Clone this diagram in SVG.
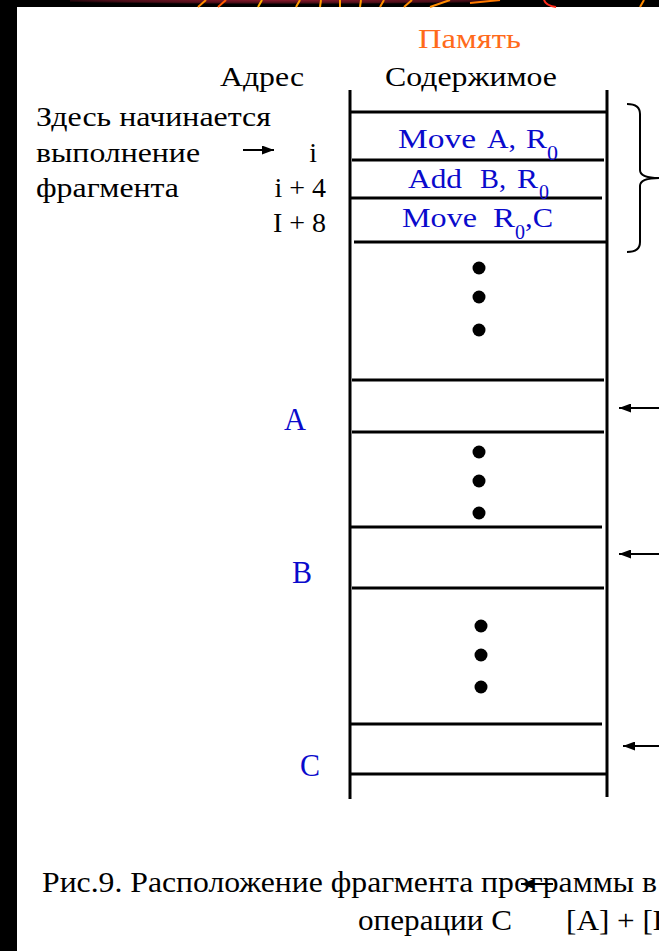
<svg xmlns="http://www.w3.org/2000/svg" width="659" height="951" viewBox="0 0 659 951">
  <defs>
    <radialGradient id="glow" cx="0.5" cy="0" r="0.6">
      <stop offset="0" stop-color="#8a1a2c"/>
      <stop offset="0.7" stop-color="#4a0d18"/>
      <stop offset="1" stop-color="#000000"/>
    </radialGradient>
    <marker id="head" viewBox="0 0 12 9" refX="12" refY="4.5" markerWidth="12" markerHeight="9" markerUnits="userSpaceOnUse" orient="auto">
      <path d="M0,0 L12,4.5 L0,9 Z" fill="#000"/>
    </marker>
    <style>
      .t { font-family: "Liberation Serif", "Tinos", "Noto Serif", "DejaVu Serif", "FreeSerif", serif; font-size: 28px; fill: #000; }
      .end { text-anchor: end; }
      .big { font-size: 31px; }
      .cap { font-size: 30px; }
      .blue { fill: #0a0acc; }
      .orange { fill: #ff6a1a; }
      .sub { font-size: 21px; }
      .cell { stroke: #000; stroke-width: 3; fill: none; }
      .wire { stroke: #000; stroke-width: 2; fill: none; }
      .dot { fill: #000; }
    </style>
  </defs>

  <!-- page frame -->
  <rect x="0" y="0" width="659" height="951" fill="#ffffff"/>
  <rect x="0" y="0" width="17" height="951" fill="#000"/>
  <rect x="0" y="0" width="659" height="7" fill="#000"/>
  <rect x="70" y="0" width="430" height="7" fill="url(#glow)"/>
  <g stroke-width="2" fill="none">
    <path d="M198,7 L206,0" stroke="#ff8a00"/>
    <path d="M218,7 L226,0" stroke="#ff5a00"/>
    <path d="M258,7 L262,0" stroke="#ffb000"/>
    <path d="M296,7 L300,0 M320,7 L321,0 M340,7 L340,0 M360,7 L361,0" stroke="#ff9a00"/>
    <path d="M380,7 L384,0 M404,7 L412,0 M430,7 L450,0" stroke="#ff8c00"/>
    <path d="M470,3 L500,0" stroke="#ff7a00"/>
    <path d="M544,0 Q546,6 556,7" stroke="#ff2a1a"/>
    <path d="M640,7 L644,0" stroke="#ff8a00"/>
  </g>

  <!-- headings -->
  <g id="heading-memory"><text class="t orange" x="418" y="48" textLength="103" lengthAdjust="spacingAndGlyphs">Память</text></g>
  <g id="heading-address"><text class="t" x="220" y="86" textLength="84" lengthAdjust="spacingAndGlyphs">Адрес</text></g>
  <g id="heading-contents"><text class="t" x="385" y="86" textLength="172" lengthAdjust="spacingAndGlyphs">Содержимое</text></g>

  <!-- start note and addresses -->
  <g id="note-start">
    <text class="t" x="36" y="126" textLength="235" lengthAdjust="spacingAndGlyphs">Здесь начинается</text>
    <text class="t" x="36" y="162" textLength="164" lengthAdjust="spacingAndGlyphs">выполнение</text>
    <text class="t" x="36" y="197" textLength="143" lengthAdjust="spacingAndGlyphs">фрагмента</text>
  </g>
  <g id="addr-i"><text class="t end" x="317" y="162">i</text></g>
  <g id="addr-i4"><text class="t end" x="326" y="197">i + 4</text></g>
  <g id="addr-i8"><text class="t end" x="326" y="232">I + 8</text></g>
  <g id="addr-a"><text class="t big blue" x="284" y="430" textLength="22" lengthAdjust="spacingAndGlyphs">A</text></g>
  <g id="addr-b"><text class="t big blue" x="292" y="583" textLength="20" lengthAdjust="spacingAndGlyphs">B</text></g>
  <g id="addr-c"><text class="t big blue" x="300" y="776" textLength="20" lengthAdjust="spacingAndGlyphs">C</text></g>

  <!-- memory column -->
  <g id="memory">
    <path class="cell" d="M350,90 V799 M607,90 V797"/>
    <path class="cell" d="M350,112 H607 M352,160 H604 M350,198 H602 M354,242 H606 M352,380 H604 M352,432 H604 M350,527 H602 M352,588 H604 M350,724 H602 M350,774 H607"/>
  </g>

  <!-- program words -->
  <g id="word-move-a">
    <text class="t blue" x="398" y="148" textLength="78" lengthAdjust="spacingAndGlyphs">Move</text>
    <text class="t blue" x="487" y="148" textLength="29" lengthAdjust="spacingAndGlyphs">A,</text>
    <text class="t blue" x="526" y="148" textLength="21" lengthAdjust="spacingAndGlyphs">R</text>
    <text class="t sub blue" x="547" y="160" textLength="11" lengthAdjust="spacingAndGlyphs">0</text>
  </g>
  <g id="word-add-b">
    <text class="t blue" x="408" y="188" textLength="54" lengthAdjust="spacingAndGlyphs">Add</text>
    <text class="t blue" x="480" y="188" textLength="26" lengthAdjust="spacingAndGlyphs">B,</text>
    <text class="t blue" x="517" y="188" textLength="21" lengthAdjust="spacingAndGlyphs">R</text>
    <text class="t sub blue" x="539" y="199" textLength="10" lengthAdjust="spacingAndGlyphs">0</text>
  </g>
  <g id="word-move-c">
    <text class="t blue" x="402" y="227" textLength="75" lengthAdjust="spacingAndGlyphs">Move</text>
    <text class="t blue" x="493" y="227" textLength="22" lengthAdjust="spacingAndGlyphs">R</text>
    <text class="t sub blue" x="515" y="239" textLength="10" lengthAdjust="spacingAndGlyphs">0</text>
    <text class="t blue" x="525" y="227" textLength="28" lengthAdjust="spacingAndGlyphs">,C</text>
  </g>

  <!-- ellipsis dots -->
  <g id="gap-1">
    <circle class="dot" cx="479" cy="268" r="6.5"/>
    <circle class="dot" cx="479" cy="297" r="6.5"/>
    <circle class="dot" cx="479" cy="330" r="6.5"/>
  </g>
  <g id="gap-2">
    <circle class="dot" cx="479" cy="452" r="6.5"/>
    <circle class="dot" cx="479" cy="481" r="6.5"/>
    <circle class="dot" cx="479" cy="513" r="6.5"/>
  </g>
  <g id="gap-3">
    <circle class="dot" cx="481" cy="626" r="6.5"/>
    <circle class="dot" cx="481" cy="655" r="6.5"/>
    <circle class="dot" cx="481" cy="687" r="6.5"/>
  </g>

  <!-- connectors -->
  <g id="connectors">
    <line class="wire" x1="243" y1="150" x2="274" y2="150" marker-end="url(#head)"/>
    <line class="wire" x1="659" y1="408" x2="619" y2="408" marker-end="url(#head)"/>
    <line class="wire" x1="659" y1="554" x2="619" y2="554" marker-end="url(#head)"/>
    <line class="wire" x1="659" y1="746" x2="623" y2="746" marker-end="url(#head)"/>
    <path class="wire" d="M627,104 Q640,104 640,114 V170 Q640,178 659,178 M659,178 Q640,178 640,186 V242 Q640,252 627,252"/>
  </g>

  <!-- caption -->
  <g id="caption">
    <text class="t cap" x="42" y="892" textLength="615" lengthAdjust="spacingAndGlyphs">Рис.9. Расположение фрагмента программы в</text>
    <text class="t cap" x="358" y="930" textLength="154" lengthAdjust="spacingAndGlyphs">операции C</text>
    <text class="t cap" x="566" y="930" textLength="118" lengthAdjust="spacingAndGlyphs">[A] + [B]</text>
    <line class="wire" x1="553" y1="884" x2="521" y2="884" marker-end="url(#head)"/>
  </g>
</svg>
